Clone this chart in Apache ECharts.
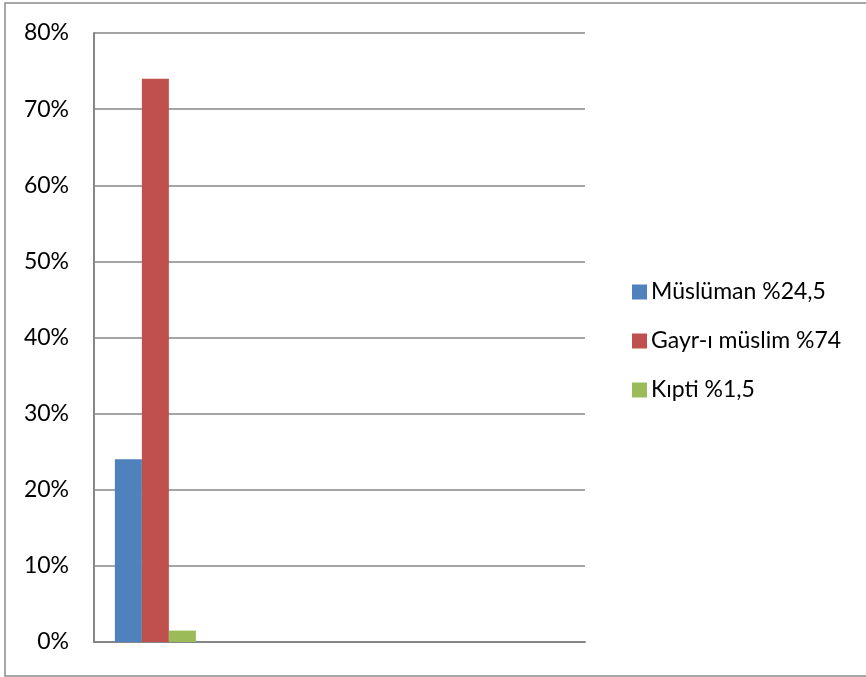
<!DOCTYPE html>
<html>
<head>
<meta charset="utf-8">
<script src="https://cdn.jsdelivr.net/npm/echarts@6/dist/echarts.min.js"></script>
<style>
html,body{margin:0;padding:0;background:#fff;}
#chart{width:866px;height:677px;}
</style>
</head>
<body>
<div id="chart"></div>
<script>
var categories = ['', ' ', '  ', '   '];
var seriesNames = ['Müslüman %24,5', 'Gayr-ı müslim %74', 'Kıpti %1,5'];
var muslim = [24, null, null, null];
var nonMuslim = [74, null, null, null];
var copt = [1.5, null, null, null];
var yTicks = [0, 10, 20, 30, 40, 50, 60, 70, 80];

var colors = ['#4F81BD', '#C0504D', '#9BBB59'];
var FONT = 'Lato';
var chart = echarts.init(document.getElementById('chart'), null, {renderer: 'canvas'});
function bar(name, data, color) {
  return {
    name: name, type: 'bar', data: data,
    barGap: '0%', barCategoryGap: '34%',
    itemStyle: {color: color},
    animation: false
  };
}
chart.setOption({
  animation: false,
  backgroundColor: '#fff',
  textStyle: {fontFamily: FONT},
  graphic: [{
    type: 'rect', silent: true,
    shape: {x: 5, y: 3, width: 880, height: 673},
    style: {fill: 'none', stroke: '#8a8a8a', lineWidth: 1.5}
  }],
  grid: {left: 94, right: 281, top: 33, bottom: 35, containLabel: false},
  legend: {
    orient: 'vertical', left: 627, top: 275,
    itemWidth: 15, itemHeight: 15, itemGap: 25,
    icon: 'rect',
    data: seriesNames,
    textStyle: {fontFamily: FONT, fontSize: 23, color: '#000', lineHeight: 24, padding: [0, 0, 0, -1]}
  },
  xAxis: {
    type: 'category', data: categories,
    axisLine: {show: true, lineStyle: {color: '#868686', width: 2}},
    axisTick: {show: false},
    axisLabel: {show: false},
    splitLine: {show: false}
  },
  yAxis: {
    type: 'value', min: yTicks[0], max: yTicks[yTicks.length - 1], interval: 10,
    axisLine: {show: true, lineStyle: {color: '#868686', width: 2}},
    axisTick: {show: false},
    axisLabel: {
      margin: 25, fontFamily: FONT, fontSize: 23, color: '#000',
      formatter: function (v) { return v + '%'; }
    },
    splitLine: {show: true, lineStyle: {color: '#868686', width: 1.5}}
  },
  series: [
    bar(seriesNames[0], muslim, colors[0]),
    bar(seriesNames[1], nonMuslim, colors[1]),
    bar(seriesNames[2], copt, colors[2])
  ]
});
</script>
</body>
</html>
